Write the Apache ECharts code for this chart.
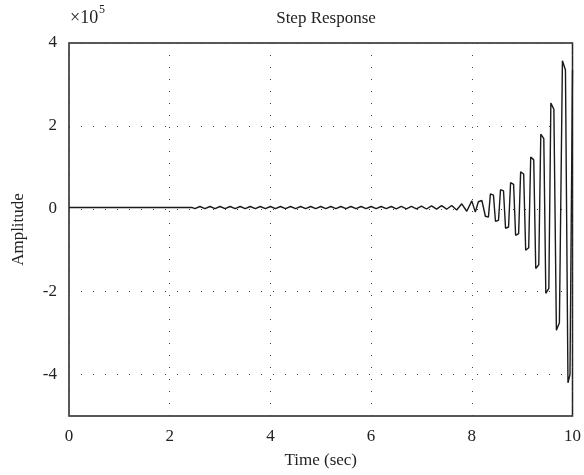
<!DOCTYPE html>
<html>
<head>
<meta charset="utf-8">
<script src="https://cdn.jsdelivr.net/npm/echarts@6/dist/echarts.min.js"></script>
<style>
html,body{margin:0;padding:0;background:#fff;}
#chart{width:584px;height:475px;}
</style>
</head>
<body>
<div id="chart"></div>
<script>
// Time (sec) and amplitude (x10^5)
var stepResponse = [
  [0, 0.03], [2.45, 0.03],
  [2.5, 0.005], [2.6, 0.055], [2.7, 0.005], [2.8, 0.055], [2.9, 0.005], [3.0, 0.055],
  [3.1, 0.005], [3.2, 0.055], [3.3, 0.005], [3.4, 0.055], [3.5, 0.005], [3.6, 0.055],
  [3.7, 0.005], [3.8, 0.055], [3.9, 0.005], [4.0, 0.055], [4.1, 0.005], [4.2, 0.055],
  [4.3, 0.005], [4.4, 0.055], [4.5, 0.005], [4.6, 0.055], [4.7, 0.005], [4.8, 0.055],
  [4.9, 0.005], [5.0, 0.055], [5.1, 0.005], [5.2, 0.055], [5.3, 0.005], [5.4, 0.055],
  [5.5, 0.005], [5.6, 0.055], [5.7, 0.005], [5.8, 0.055], [5.9, 0.005], [6.0, 0.055],
  [6.1, 0.005], [6.2, 0.055], [6.3, 0.005], [6.4, 0.055], [6.5, 0.0], [6.6, 0.06],
  [6.7, 0.0], [6.8, 0.06], [6.9, 0.0], [7.0, 0.065], [7.1, -0.005], [7.2, 0.07],
  [7.3, -0.01], [7.4, 0.075], [7.5, -0.01], [7.6, 0.08], [7.7, -0.03], [7.8, 0.12],
  [7.9, -0.06], [8.0, 0.19], [8.07, -0.08], [8.13, 0.17], [8.2, 0.2], [8.27, -0.18],
  [8.33, -0.2], [8.37, 0.36], [8.43, 0.33], [8.47, -0.3], [8.53, -0.28],
  [8.57, 0.46], [8.63, 0.43], [8.67, -0.47], [8.73, -0.44], [8.77, 0.63], [8.83, 0.59],
  [8.87, -0.64], [8.93, -0.6], [8.97, 0.89], [9.03, 0.84], [9.07, -1.0], [9.13, -0.94],
  [9.17, 1.25], [9.23, 1.18], [9.27, -1.44], [9.33, -1.35], [9.37, 1.8], [9.43, 1.69],
  [9.47, -2.04], [9.53, -1.92], [9.57, 2.55], [9.63, 2.4], [9.68, -2.93], [9.74, -2.75],
  [9.80, 3.57], [9.86, 3.35], [9.91, -4.2], [9.95, -4.0], [10.0, 3.35]
];
var xTicks = [0, 2, 4, 6, 8, 10];
var yTicks = [-4, -2, 0, 2, 4];
var titleText = 'Step Response';
var xName = 'Time (sec)';
var yName = 'Amplitude';

var font = '"Liberation Serif", "DejaVu Serif", serif';
var fs = 17;
var chart = echarts.init(document.getElementById('chart'), null, {renderer: 'canvas'});
var gridLine = {show: true, lineStyle: {color: '#444', width: 1, type: [1, 11]}};
chart.setOption({
  animation: false,
  backgroundColor: '#fff',
  title: {
    text: titleText, left: 321, top: 5, textAlign: 'center',
    textStyle: {fontFamily: font, fontSize: fs, fontWeight: 'normal', color: '#222'}
  },
  graphic: [
    {type: 'text', left: 70, top: 9, style: {text: '\u00d710', fontFamily: font, fontSize: 18, fill: '#222'}},
    {type: 'text', left: 99, top: 4, style: {text: '5', fontFamily: font, fontSize: 12, fill: '#222'}}
  ],
  grid: {left: 69, right: 11, top: 43, bottom: 59, show: true, borderColor: '#222', borderWidth: 1.5, backgroundColor: 'transparent'},
  xAxis: {
    type: 'value', min: 0, max: 10, interval: 2,
    name: xName, nameLocation: 'middle', nameGap: 36,
    nameTextStyle: {fontFamily: font, fontSize: fs, color: '#222'},
    axisLine: {show: false}, axisTick: {show: false},
    axisLabel: {margin: 12, fontFamily: font, fontSize: fs, color: '#222', customValues: xTicks},
    splitLine: gridLine
  },
  yAxis: {
    type: 'value', min: -5, max: 4,
    name: yName, nameLocation: 'middle', nameGap: 42,
    nameTextStyle: {fontFamily: font, fontSize: fs, color: '#222'},
    axisLine: {show: false},
    axisTick: {show: false, customValues: yTicks},
    axisLabel: {margin: 12, fontFamily: font, fontSize: fs, color: '#222', customValues: yTicks},
    splitLine: gridLine
  },
  series: [{
    type: 'line', data: stepResponse, showSymbol: false, symbol: 'none',
    lineStyle: {color: '#1a1a1a', width: 1.4}, z: 3
  }]
});
</script>
</body>
</html>
